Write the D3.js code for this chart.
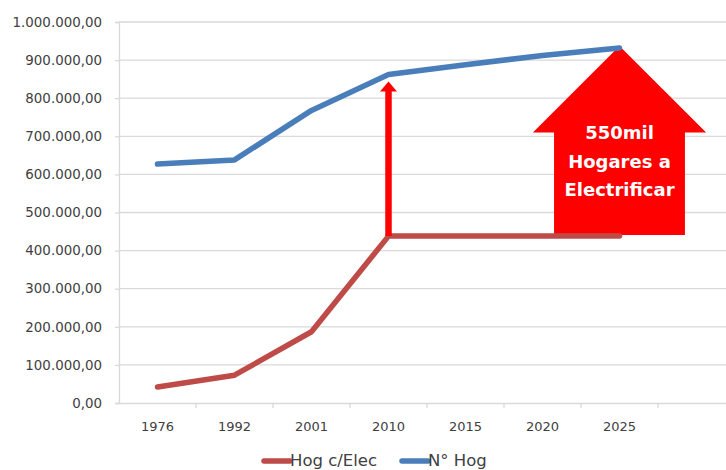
<!DOCTYPE html>
<html><head><meta charset="utf-8">
<script src="https://cdn.jsdelivr.net/npm/d3@7"></script>
<style>body{margin:0;background:#fff}svg{display:block}</style>
</head><body>
<svg id="c" width="726" height="470"></svg>
<script>
const categories = ["1976","1992","2001","2010","2015","2020","2025",""];
const hogElec = [42000, 73000, 187000, 438000, 438000, 438000, 438000];
const nHog = [627000, 638000, 768000, 862000, 888000, 912000, 932000];
const yTicks = [0,100000,200000,300000,400000,500000,600000,700000,800000,900000,1000000];
const seriesNames = ["Hog c/Elec","N° Hog"];
const arrowLines = ["550mil","Hogares a","Electrificar"];

const svg = d3.select("#c");
const x = d3.scaleBand().domain(categories.map((d,i)=>i)).range([119, 735]);
const y = d3.scaleLinear().domain([0,1000000]).range([403,22]);
const cx = i => x(i) + x.bandwidth()/2;
const fmt = v => d3.format(",.2f")(v).replace(/,/g,"#").replace(/\./g,",").replace(/#/g,".");

// gridlines
svg.append("g").selectAll("line").data(yTicks.slice(1)).join("line")
  .attr("x1",119).attr("x2",726).attr("y1",d=>y(d)).attr("y2",d=>y(d))
  .attr("stroke","#d9d9d9").attr("stroke-width",1.3);

// y axis
const ya = svg.append("g").attr("transform","translate(119,0)")
  .call(d3.axisLeft(y).tickValues(yTicks).tickFormat(fmt).tickSize(4).tickPadding(13));
ya.select(".domain").attr("stroke","#d9d9d9").attr("stroke-width",1.3);
ya.selectAll(".tick line").attr("stroke","#d9d9d9").attr("stroke-width",1.3);
ya.selectAll("text").attr("font-family","DejaVu Sans").attr("font-size",13.4).attr("fill","#404040");

// x axis
const xa = svg.append("g").attr("transform","translate(0,403)")
  .call(d3.axisBottom(x).tickFormat(i=>categories[i]).tickSize(0).tickPadding(19));
xa.select(".domain").attr("stroke","#d9d9d9").attr("stroke-width",1.3);
xa.selectAll(".tick line").remove();
svg.append("g").selectAll("line").data(categories.map((d,i)=>i)).join("line")
  .attr("x1",i=>x(i)+x.bandwidth()).attr("x2",i=>x(i)+x.bandwidth())
  .attr("y1",403).attr("y2",408).attr("stroke","#d9d9d9").attr("stroke-width",1.3);
xa.selectAll("text").attr("font-family","DejaVu Sans").attr("font-size",13).attr("fill","#404040");

// big arrow
const ax = cx(6), hw = x.bandwidth()*1.125, sw = x.bandwidth()*0.85;
const tipY = y(nHog[6]) - 2, baseY = y(710000), botY = y(hogElec[6]) - 1;
svg.append("path")
  .attr("d", `M${ax},${tipY} L${ax+hw},${baseY} L${ax+sw},${baseY} L${ax+sw},${botY} L${ax-sw},${botY} L${ax-sw},${baseY} L${ax-hw},${baseY} Z`)
  .attr("fill","#ff0000");

// lines
const line = d3.line().x((d,i)=>cx(i)).y(d=>y(d));
svg.append("path").datum(hogElec).attr("d",line).attr("fill","none")
  .attr("stroke","#be4b48").attr("stroke-width",5.5).attr("stroke-linecap","round").attr("stroke-linejoin","round");
svg.append("path").datum(nHog).attr("d",line).attr("fill","none")
  .attr("stroke","#4a7ebb").attr("stroke-width",5.5).attr("stroke-linecap","round").attr("stroke-linejoin","round");

// thin arrow at 2010
const tx = cx(3);
const t0 = y(hogElec[3]), t1 = y(nHog[3]) + 7;
svg.append("line").attr("x1",tx).attr("x2",tx).attr("y1",t0).attr("y2",t1+9)
  .attr("stroke","#ff0000").attr("stroke-width",6.5);
svg.append("path").attr("d",`M${tx},${t1} L${tx+8.5},${t1+10} L${tx-8.5},${t1+10} Z`).attr("fill","#ff0000");

// arrow text
svg.append("text").attr("x",ax).attr("font-family","DejaVu Sans").attr("font-weight","bold")
  .attr("font-size",18).attr("fill","#fff").attr("text-anchor","middle")
  .selectAll("tspan").data(arrowLines).join("tspan")
  .attr("x",ax).attr("y",(d,i)=>139+i*28.5).text(d=>d);

// legend
const colors = ["#be4b48","#4a7ebb"];
const lg = svg.append("g");
const lx = [262, 400];
seriesNames.forEach((n,i)=>{
  lg.append("line").attr("x1",lx[i]+2).attr("x2",lx[i]+28).attr("y1",461).attr("y2",461)
    .attr("stroke",colors[i]).attr("stroke-width",5.5).attr("stroke-linecap","round");
  lg.append("text").attr("x",lx[i]+28).attr("y",465.5).attr("font-family","DejaVu Sans")
    .attr("font-size",16.5).attr("fill","#404040").text(n);
});
</script>
</body></html>
